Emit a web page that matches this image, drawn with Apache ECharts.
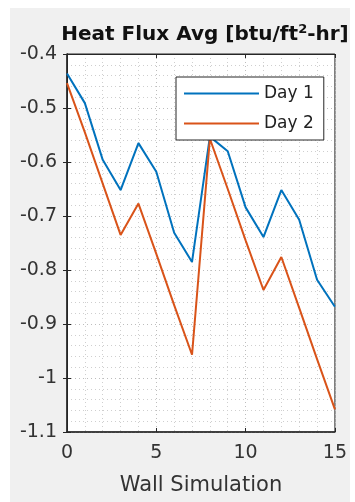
<!DOCTYPE html>
<html>
<head>
<meta charset="utf-8">
<script src="https://cdn.jsdelivr.net/npm/echarts@6/dist/echarts.min.js"></script>
<style>
html,body{margin:0;padding:0;background:#fff;width:355px;height:502px;overflow:hidden;}
#c{position:absolute;left:10px;top:8px;width:340px;height:494px;}
</style>
</head>
<body>
<div id="c"></div>
<script>
var xValues = [0,1,2,3,4,5,6,7,8,9,10,11,12,13,14,15];
var day1 = [-0.436,-0.491,-0.596,-0.652,-0.565,-0.618,-0.731,-0.785,-0.553,-0.580,-0.684,-0.739,-0.652,-0.707,-0.818,-0.868];
var day2 = [-0.454,-0.545,-0.640,-0.735,-0.677,-0.770,-0.865,-0.957,-0.557,-0.650,-0.745,-0.837,-0.776,-0.870,-0.965,-1.058];
var seriesNames = ['Day 1','Day 2'];
var titleParts = ['Heat Flux Avg [btu/ft','2','-hr]'];
var xName = 'Wall Simulation';

var FONT = 'DejaVu Sans';
var axisColor = '#262626';
var textColor = '#333333';
var gridDot = {show:true, lineStyle:{color:'#bdbdbd', width:1, type:[1,3]}};
var minorDot = {show:true, lineStyle:{color:'#cfcfcf', width:1, type:[1,3]}};

function pairs(ys){ return xValues.map(function(x,i){ return [x, ys[i]]; }); }

var chart = echarts.init(document.getElementById('c'), null, {renderer:'canvas'});
chart.setOption({
  backgroundColor:'#f0f0f0',
  animation:false,
  title:{
    text:'{a|'+titleParts[0]+'}{s|'+titleParts[1]+'}{a|'+titleParts[2]+'}',
    left:190, top:10, textAlign:'center',
    textStyle:{
      rich:{
        a:{fontFamily:FONT, fontWeight:'bold', fontSize:20, color:'#111', lineHeight:23},
        s:{fontFamily:FONT, fontWeight:'bold', fontSize:13, color:'#111', verticalAlign:'top', lineHeight:13}
      }
    }
  },
  legend:{
    orient:'vertical',
    left:166, top:69,
    backgroundColor:'#ffffff',
    borderColor:axisColor, borderWidth:1,
    padding:[8,10,8,8],
    itemWidth:75, itemHeight:14, itemGap:13,
    icon:'path://M0,0 L40,0 L40,1 L0,1 Z',
    symbolKeepAspect:true,
    textStyle:{fontFamily:FONT, fontSize:17, color:'#222', lineHeight:14},
    data:seriesNames
  },
  grid:{left:57, right:12, top:46, bottom:70, show:true, backgroundColor:'#ffffff', borderColor:axisColor, borderWidth:1},
  xAxis:[{
    type:'value', min:0, max:15, interval:5, position:'bottom',
    name:xName, nameLocation:'middle', nameGap:43,
    nameTextStyle:{fontFamily:FONT, fontSize:21, color:textColor},
    axisLine:{show:true, lineStyle:{color:axisColor, width:1.5}},
    axisTick:{show:true, inside:true, length:4, lineStyle:{color:axisColor}},
    axisLabel:{fontFamily:FONT, fontSize:19, color:textColor, margin:12},
    splitLine:gridDot,
    minorTick:{show:false, splitNumber:5},
    minorSplitLine:minorDot
  },{
    type:'value', min:0, max:15, interval:5, position:'top',
    axisLine:{show:true, lineStyle:{color:axisColor, width:1}},
    axisTick:{show:true, inside:true, length:4, lineStyle:{color:axisColor}},
    axisLabel:{show:false}, splitLine:{show:false}
  }],
  yAxis:[{
    type:'value', min:-1.1, max:-0.4, interval:0.1, position:'left',
    axisLine:{show:true, lineStyle:{color:axisColor, width:1.5}},
    axisTick:{show:true, inside:true, length:4, lineStyle:{color:axisColor}},
    axisLabel:{fontFamily:FONT, fontSize:19, color:textColor, margin:10,
      formatter:function(v){ return String(Math.round(v*10)/10); }},
    splitLine:gridDot,
    minorTick:{show:false, splitNumber:5},
    minorSplitLine:minorDot
  },{
    type:'value', min:-1.1, max:-0.4, interval:0.1, position:'right',
    axisLine:{show:true, lineStyle:{color:axisColor, width:1}},
    axisTick:{show:true, inside:true, length:4, lineStyle:{color:axisColor}},
    axisLabel:{show:false}, splitLine:{show:false}
  }],
  series:[{
    name:seriesNames[0], type:'line', data:pairs(day1), symbol:'none',
    xAxisIndex:0, yAxisIndex:0,
    lineStyle:{color:'#0072BD', width:2}, itemStyle:{color:'#0072BD'}
  },{
    name:seriesNames[1], type:'line', data:pairs(day2), symbol:'none',
    xAxisIndex:0, yAxisIndex:0,
    lineStyle:{color:'#D95319', width:2}, itemStyle:{color:'#D95319'}
  }]
});
</script>
</body>
</html>
